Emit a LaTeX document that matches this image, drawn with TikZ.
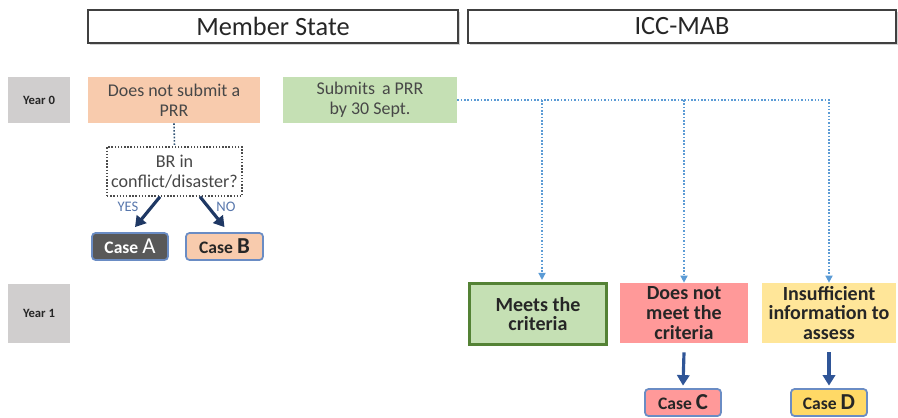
\documentclass[tikz,border=0pt]{standalone}
\usepackage{fontspec}
\setmainfont{Carlito}
\usepackage{tikz}
\usetikzlibrary{arrows.meta,shadows}

\definecolor{peach}{HTML}{F8CBAD}
\definecolor{lgreen}{HTML}{C5E0B4}
\definecolor{dgreen}{HTML}{548235}
\definecolor{pinkred}{HTML}{FF9999}
\definecolor{lyellow}{HTML}{FFE699}
\definecolor{dyellow}{HTML}{FFD966}
\definecolor{yeargray}{HTML}{D0CECE}
\definecolor{casegray}{HTML}{595959}
\definecolor{caseline}{HTML}{6A8CC4}
\definecolor{dotblue}{HTML}{5B9BD5}
\definecolor{navy}{HTML}{1F3864}
\definecolor{arrblue}{HTML}{2F5597}
\definecolor{txt}{HTML}{262626}

\begin{document}
\begin{tikzpicture}[x=0.02cm,y=-0.02cm,
  header/.style={draw=black!75, line width=1.1pt, fill=white, minimum height=0.66cm,
    text=txt, inner sep=0pt, font=\fontsize{15}{16}\selectfont,
    drop shadow={shadow xshift=1.2pt, shadow yshift=-1.2pt, opacity=0.35}},
  yearbox/.style={fill=yeargray, minimum width=1.24cm, text=black!85, font=\fontsize{7.2}{8}\selectfont\bfseries},
  plainbox/.style={minimum height=0.92cm, align=center, text=txt!85, inner sep=0pt,
    font=\fontsize{10.2}{11.3}\selectfont},
  result/.style={minimum height=1.2cm, align=center, text=txt, inner sep=0pt,
    font=\fontsize{11.4}{11.3}\selectfont\bfseries},
  casebox/.style={draw=caseline, line width=1pt, rounded corners=2pt, minimum width=1.52cm,
    minimum height=0.54cm, inner sep=0pt, text=txt, font=\fontsize{10}{11}\selectfont\bfseries},
  feed/.style={dotblue, densely dotted, line width=0.9pt},
  feedtip/.style={feed, -{Triangle[length=4pt,width=4pt]}},
  yesno/.style={navy, line width=1.8pt, -{Triangle[length=6pt,width=7pt]}},
  down/.style={arrblue, line width=1.8pt, -{Triangle[length=6pt,width=7pt]}},
  ynlabel/.style={text=arrblue!80!white, font=\fontsize{8.3}{9}\selectfont}]
\useasboundingbox (0,0) rectangle (898,417);

\node[header, minimum width=7.4cm] (ms) at (273,26.5) {Member State};
\node[header, minimum width=8.56cm] (icc) at (682,26.5) {ICC-MAB};

\node[yearbox, minimum height=0.92cm] (y0) at (39,100) {Year 0};
\node[yearbox, minimum height=1.18cm] (y1) at (39,313.5) {Year 1};

\node[plainbox, fill=peach, minimum width=3.44cm] (nosub) at (174,100) {Does not submit a\\PRR};
\node[plainbox, fill=lgreen, minimum width=3.48cm] (sub) at (370,100) {Submits\, a PRR\\by 30 Sept.};

\node[draw=black!70, densely dotted, line width=0.8pt, minimum width=2.7cm, minimum height=0.98cm,
  align=center, inner sep=0pt, text=txt!85, font=\fontsize{10.3}{11.3}\selectfont] (br) at (174.5,171.5)
  {BR in\\conflict/disaster?};

\node[casebox, fill=casegray, text=white] (casea) at (130,246.5) {Case \fontsize{13}{13}\selectfont\mdseries A};
\node[casebox, fill=peach, minimum width=1.54cm] (caseb) at (224.5,246.5) {Case \fontsize{13}{13}\selectfont B};

\node[result, fill=lgreen, draw=dgreen, line width=1.8pt, minimum width=2.74cm, minimum height=1.22cm] (meets) at (538,314) {Meets the\\criteria};
\node[result, fill=pinkred, minimum width=2.56cm] (notmeet) at (684,313) {Does not\\meet the\\criteria};
\node[result, fill=lyellow, minimum width=2.68cm] (insuf) at (829,313) {Insufficient\\information to\\assess};

\node[casebox, fill=pinkred] (casec) at (683,402.5) {Case \fontsize{13}{13}\selectfont C};
\node[casebox, fill=dyellow] (cased) at (829,402.5) {Case \fontsize{13}{13}\selectfont D};

% connectors
\draw[black!45!dotblue, densely dotted, line width=0.9pt] (nosub.south) -- (br.north);
\draw[yesno] ([xshift=-0.29cm]br.south) -- ([xshift=0.1cm,yshift=0.1cm]casea.north);
\draw[yesno] ([xshift=0.51cm]br.south) -- ([xshift=0cm,yshift=0.1cm]caseb.north);
\node[ynlabel] (yes) at (128,207) {YES};
\node[ynlabel] (no) at (226,207) {NO};

\draw[feedtip] (sub.east) -| (insuf.north);
\draw[feedtip] ([xshift=0.08cm]sub.east -| meets.north) -- ([xshift=0.08cm,yshift=0.04cm]meets.north);
\draw[feedtip] (sub.east -| notmeet.north) -- (notmeet.north);

\draw[down] ([yshift=-0.18cm]notmeet.south) -- ([yshift=0.05cm]casec.north);
\draw[down] ([yshift=-0.18cm]insuf.south) -- ([yshift=0.05cm]cased.north);

\end{tikzpicture}
\end{document}
